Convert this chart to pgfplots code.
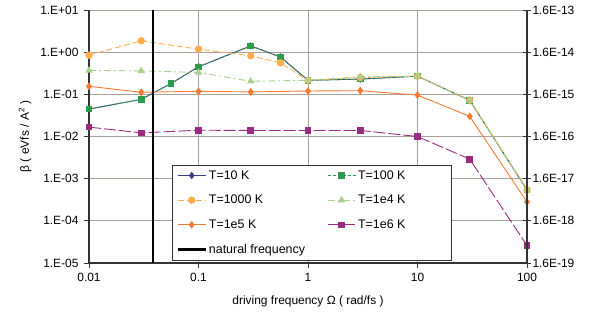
\documentclass[border=0pt]{standalone}
\usepackage{fontspec}
\setmainfont{Liberation Sans}
\usepackage{pgfplots}
\pgfplotsset{compat=1.18}
\definecolor{cnavy}{HTML}{3C3C8C}
\definecolor{cgreen}{HTML}{2E9A4E}
\definecolor{clorange}{HTML}{FDAE4B}
\definecolor{clgreen}{HTML}{A9D18E}
\definecolor{corange}{HTML}{F47B35}
\definecolor{cpurple}{HTML}{9B2B81}
\definecolor{gridc}{HTML}{A8A09A}
\definecolor{axc}{HTML}{333333}
\begin{document}
\begin{tikzpicture}
\useasboundingbox (0,0) rectangle (610bp,317bp);
\pgfplotsset{
  every axis/.append style={font=\fontsize{12}{14}\selectfont},
}
\begin{axis}[
  at={(89bp,54bp)}, anchor=south west,
  scale only axis, width=438bp, height=253bp,
  xmode=log, ymode=log,
  xmin=0.01, xmax=100, ymin=1e-5, ymax=10,
  axis x line*=bottom, axis y line*=left,
  axis line style={draw=axc, line width=1.2bp},
  xtick={0.01,0.1,1,10,100},
  xticklabels={0.01,0.1,1,10,100},
  ytick={1e-5,1e-4,1e-3,1e-2,1e-1,1,10},
  yticklabels={1.E-05,1.E-04,1.E-03,1.E-02,1.E-01,1.E+00,1.E+01},
  minor tick num=0,
  tick align=outside,
  major tick length=5bp,
  tick style={draw=axc, line width=0.8bp},
  every minor tick/.style={draw=none},
  grid=major,
  major grid style={draw=gridc, line width=0.8bp},
  /pgf/number format/assume math mode=true,
  xlabel={driving frequency Ω ( rad/fs )},
  xlabel style={at={(axis description cs:0.5,-0.15)}, anchor=center},
  ylabel={β ( eVfs / A\textsuperscript{2} )},
  ylabel style={at={(axis description cs:-0.146,0.5)}, anchor=center, rotate=0},
  yticklabel style={xshift=-2bp},
  xticklabel style={yshift=-2bp},
  legend columns=2,
  legend cell align=left,
  legend style={at={(0.19,0.387)}, anchor=north west, draw=axc, line width=0.6bp,
    fill=white, font=\fontsize{12.5}{14}\selectfont, inner xsep=4bp, inner ysep=3bp,
    row sep=10.5bp,
    /tikz/every even column/.append style={column sep=20bp}},
  legend image code/.code={\draw[mark repeat=2,mark phase=2,#1] plot coordinates {(0bp,0bp)(14bp,0bp)(28bp,0bp)};},
]
\addplot[cnavy, line width=0.9bp, mark=diamond*, mark size=3bp, mark options={solid}]
  coordinates {(0.01,0.0447)(0.03,0.076)(0.056,0.18)(0.1,0.45)(0.3,1.41)(0.56,0.77)(1,0.215)(3,0.23)(10,0.27)(30,0.072)(100,5.4e-4)};
\addlegendentry{T=10 K}
\addplot[cgreen, line width=0.9bp, dash pattern=on 3bp off 2bp, mark=square*, mark size=2.8bp, mark options={solid}]
  coordinates {(0.01,0.0447)(0.03,0.076)(0.056,0.18)(0.1,0.45)(0.3,1.41)(0.56,0.77)(1,0.215)(3,0.23)(10,0.27)(30,0.072)(100,5.4e-4)};
\addlegendentry{T=100 K\rule{40bp}{0pt}}
\addplot[clorange, line width=0.9bp, dash pattern=on 6bp off 3bp, mark=*, mark size=3.2bp, mark options={solid}]
  coordinates {(0.01,0.85)(0.03,1.86)(0.1,1.18)(0.3,0.82)(0.56,0.56)(1,0.215)(3,0.25)(10,0.27)(30,0.072)(100,5.4e-4)};
\addlegendentry{T=1000 K}
\addplot[clgreen, line width=0.9bp, dash pattern=on 7bp off 3bp on 2bp off 3bp, mark=triangle*, mark size=3.4bp, mark options={solid}]
  coordinates {(0.01,0.37)(0.03,0.36)(0.1,0.33)(0.3,0.204)(1,0.215)(3,0.26)(10,0.27)(30,0.072)(100,5.6e-4)};
\addlegendentry{T=1e4 K}
\addplot[corange, line width=0.9bp, mark=diamond*, mark size=3.2bp, mark options={solid}]
  coordinates {(0.01,0.155)(0.03,0.112)(0.1,0.118)(0.3,0.114)(1,0.12)(3,0.122)(10,0.096)(30,0.030)(100,2.8e-4)};
\addlegendentry{T=1e5 K}
\addplot[cpurple, line width=0.9bp, dash pattern=on 12bp off 3bp, mark=square*, mark size=2.8bp, mark options={solid}]
  coordinates {(0.01,0.0167)(0.03,0.0122)(0.1,0.0141)(0.3,0.0139)(1,0.0139)(3,0.0139)(10,0.0100)(30,0.0029)(100,2.6e-5)};
\addlegendentry{T=1e6 K}
\addplot[black, line width=2.4bp, no marks]
  coordinates {(0.0383,1e-5)(0.0383,10)};
\addlegendentry{natural frequency}
\end{axis}
\begin{axis}[
  at={(89bp,54bp)}, anchor=south west,
  scale only axis, width=438bp, height=253bp,
  xmode=log, ymode=log,
  xmin=0.01, xmax=100, ymin=1.6e-19, ymax=1.6e-13,
  axis x line=none, axis y line*=right,
  axis line style={draw=axc, line width=1.2bp},
  ytick={1.6e-19,1.6e-18,1.6e-17,1.6e-16,1.6e-15,1.6e-14,1.6e-13},
  yticklabels={1.6E-19,1.6E-18,1.6E-17,1.6E-16,1.6E-15,1.6E-14,1.6E-13},
  minor tick num=0,
  every minor tick/.style={draw=none},
  tick align=center,
  major tick length=8bp,
  tick style={draw=axc, line width=0.8bp},
  /pgf/number format/assume math mode=true,
  yticklabel style={xshift=-2bp},
]
\node[rotate=90, anchor=center] at (axis description cs:1.174,0.5) {β ( kg/s )};
\end{axis}
\end{tikzpicture}
\end{document}
